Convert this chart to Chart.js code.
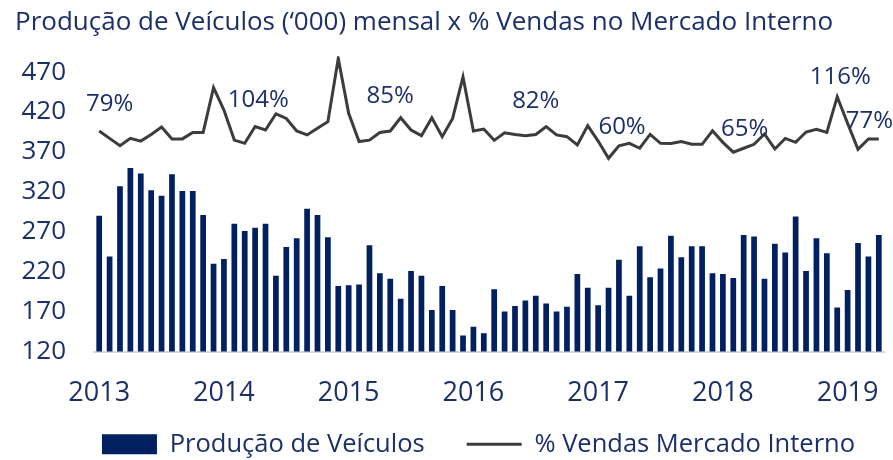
<!DOCTYPE html>
<html lang="pt">
<head>
    <meta charset="UTF-8">
    <title>Produção de Veículos</title>
    <script src="https://cdn.jsdelivr.net/npm/chart.js"></script>
    <style>
        html, body { margin: 0; padding: 0; background: #fff; }
        #wrap { width: 893px; height: 460px; }
    </style>
</head>
<body>
    <div id="wrap"><canvas id="prodChart" width="893" height="460"></canvas></div>

    <script>
        // months Jan 2013 .. Apr 2019
        const years = ['2013', '2014', '2015', '2016', '2017', '2018', '2019'];
        const months = [];
        years.forEach(y => {
            for (let m = 1; m <= 12; m++) {
                if (y === '2019' && m > 4) break;
                months.push(y + '-' + String(m).padStart(2, '0'));
            }
        });

        // Produção de Veículos ('000)
        const producao = [
            290, 239, 327, 350, 343, 322, 315, 342, 321, 321, 291, 230,
            236, 280, 271, 275, 280, 215, 251, 262, 299, 291, 263, 202,
            203, 204, 253, 218, 211, 186, 221, 215, 172, 202, 172, 140,
            151, 143, 198, 170, 177, 184, 190, 180, 170, 176, 217, 200,
            178, 200, 235, 190, 252, 213, 224, 265, 238, 252, 252, 218,
            217, 212, 266, 264, 211, 255, 244, 289, 221, 262, 243, 175,
            197, 256, 239, 266
        ];

        // % Vendas Mercado Interno (secondary scale, hidden)
        const vendasPct = [
            89.6, 86.6, 83.6, 86.6, 85.5, 88.2, 91.2, 86.4, 86.4, 89.0, 89.0, 107.2,
            98.1, 85.9, 84.6, 91.4, 90.0, 96.6, 94.7, 89.6, 88.0, 90.7, 93.4, 119.1,
            96.8, 85.3, 85.9, 89.0, 89.6, 95.0, 90.0, 87.7, 95.0, 87.3, 94.7, 111.6,
            89.6, 90.4, 85.8, 88.9, 88.2, 87.7, 88.2, 91.4, 88.0, 87.3, 83.9, 91.8,
            85.5, 78.5, 83.6, 84.6, 82.6, 88.2, 84.6, 84.5, 85.3, 84.2, 84.2, 89.7,
            85.0, 81.0, 82.6, 84.2, 88.4, 82.3, 86.6, 85.0, 89.2, 90.3, 89.0, 103.5,
            92.7, 82.2, 86.4, 86.4
        ];

        const yTicks = [120, 170, 220, 270, 320, 370, 420, 470];

        // annotation labels, anchored at month index / left-axis level
        const annoText  = ['79%', '104%', '85%', '82%', '60%', '65%', '116%', '77%'];
        const annoIndex = [1, 15.3, 28, 42, 50.3, 62.1, 71.3, 74.1];
        const annoLevel = [430, 435, 440, 434, 401, 399, 464, 408];

        const navy = '#1b3068';
        const font = "'Open Sans', sans-serif";

        const annoPlugin = {
            id: 'annos',
            afterLayout(chart) {
                // legend sits just under the year labels, shifted a bit right
                const lg = chart.legend;
                if (lg) {
                    const h = lg.bottom - lg.top;
                    lg.top = chart.chartArea.bottom + 38;
                    lg.bottom = lg.top + h;
                    lg.left += 29;
                    lg.right += 29;
                }
            },
            afterDatasetsDraw(chart) {
                const { ctx, scales } = chart;
                ctx.save();
                ctx.font = '24px ' + font;
                ctx.fillStyle = navy;
                ctx.textAlign = 'center';
                ctx.textBaseline = 'middle';
                annoText.forEach((t, i) => {
                    ctx.fillText(t, scales.x.getPixelForValue(annoIndex[i]), scales.y.getPixelForValue(annoLevel[i]));
                });
                ctx.restore();
            }
        };

        const ctx = document.getElementById('prodChart').getContext('2d');
        new Chart(ctx, {
            data: {
                labels: months,
                datasets: [
                    {
                        type: 'bar',
                        label: 'Produção de Veículos',
                        data: producao,
                        backgroundColor: '#002060',
                        borderWidth: 0,
                        barPercentage: 0.55,
                        categoryPercentage: 1.0,
                        pointStyle: 'rect',
                        yAxisID: 'y'
                    },
                    {
                        type: 'line',
                        label: '% Vendas Mercado Interno',
                        data: vendasPct,
                        borderColor: '#3c3c3c',
                        backgroundColor: '#3c3c3c',
                        borderWidth: 3,
                        pointRadius: 0,
                        tension: 0,
                        pointStyle: 'line',
                        yAxisID: 'y1'
                    }
                ]
            },
            options: {
                responsive: false,
                animation: false,
                layout: { padding: { left: 15, right: 9, top: 0, bottom: -28 } },
                scales: {
                    x: {
                        grid: { display: false, drawTicks: false },
                        border: { color: '#d9d9d9', width: 2 },
                        afterFit: scale => {
                            scale.paddingLeft = 0;
                            scale.paddingRight = 0;
                            scale.height = 59;
                        },
                        ticks: {
                            autoSkip: false,
                            maxRotation: 0,
                            padding: 26,
                            color: navy,
                            font: { family: font, size: 27 },
                            callback: function (v, i) {
                                return i % 12 === 0 ? months[i].slice(0, 4) : '';
                            }
                        }
                    },
                    y: {
                        min: 120,
                        max: 490,
                        grid: { display: false, drawTicks: false },
                        border: { display: false },
                        afterBuildTicks: scale => {
                            scale.ticks = yTicks.map(v => ({ value: v }));
                        },
                        afterFit: scale => { scale.width = 79; },
                        ticks: {
                            padding: 28,
                            color: navy,
                            font: { family: font, size: 26 }
                        }
                    },
                    y1: {
                        display: false,
                        min: 0,
                        max: 120
                    }
                },
                plugins: {
                    title: {
                        display: true,
                        text: 'Produção de Veículos (‘000) mensal x % Vendas no Mercado Interno',
                        align: 'start',
                        color: navy,
                        font: { family: font, size: 26, weight: 'normal' },
                        padding: { top: 7, bottom: 18 }
                    },
                    legend: {
                        position: 'bottom',
                        labels: {
                            usePointStyle: true,
                            pointStyleWidth: 55,
                            boxHeight: 20,
                            padding: 42,
                            color: navy,
                            font: { family: font, size: 25.5 }
                        }
                    },
                    tooltip: { enabled: false }
                }
            },
            plugins: [annoPlugin]
        });
    </script>
</body>
</html>
